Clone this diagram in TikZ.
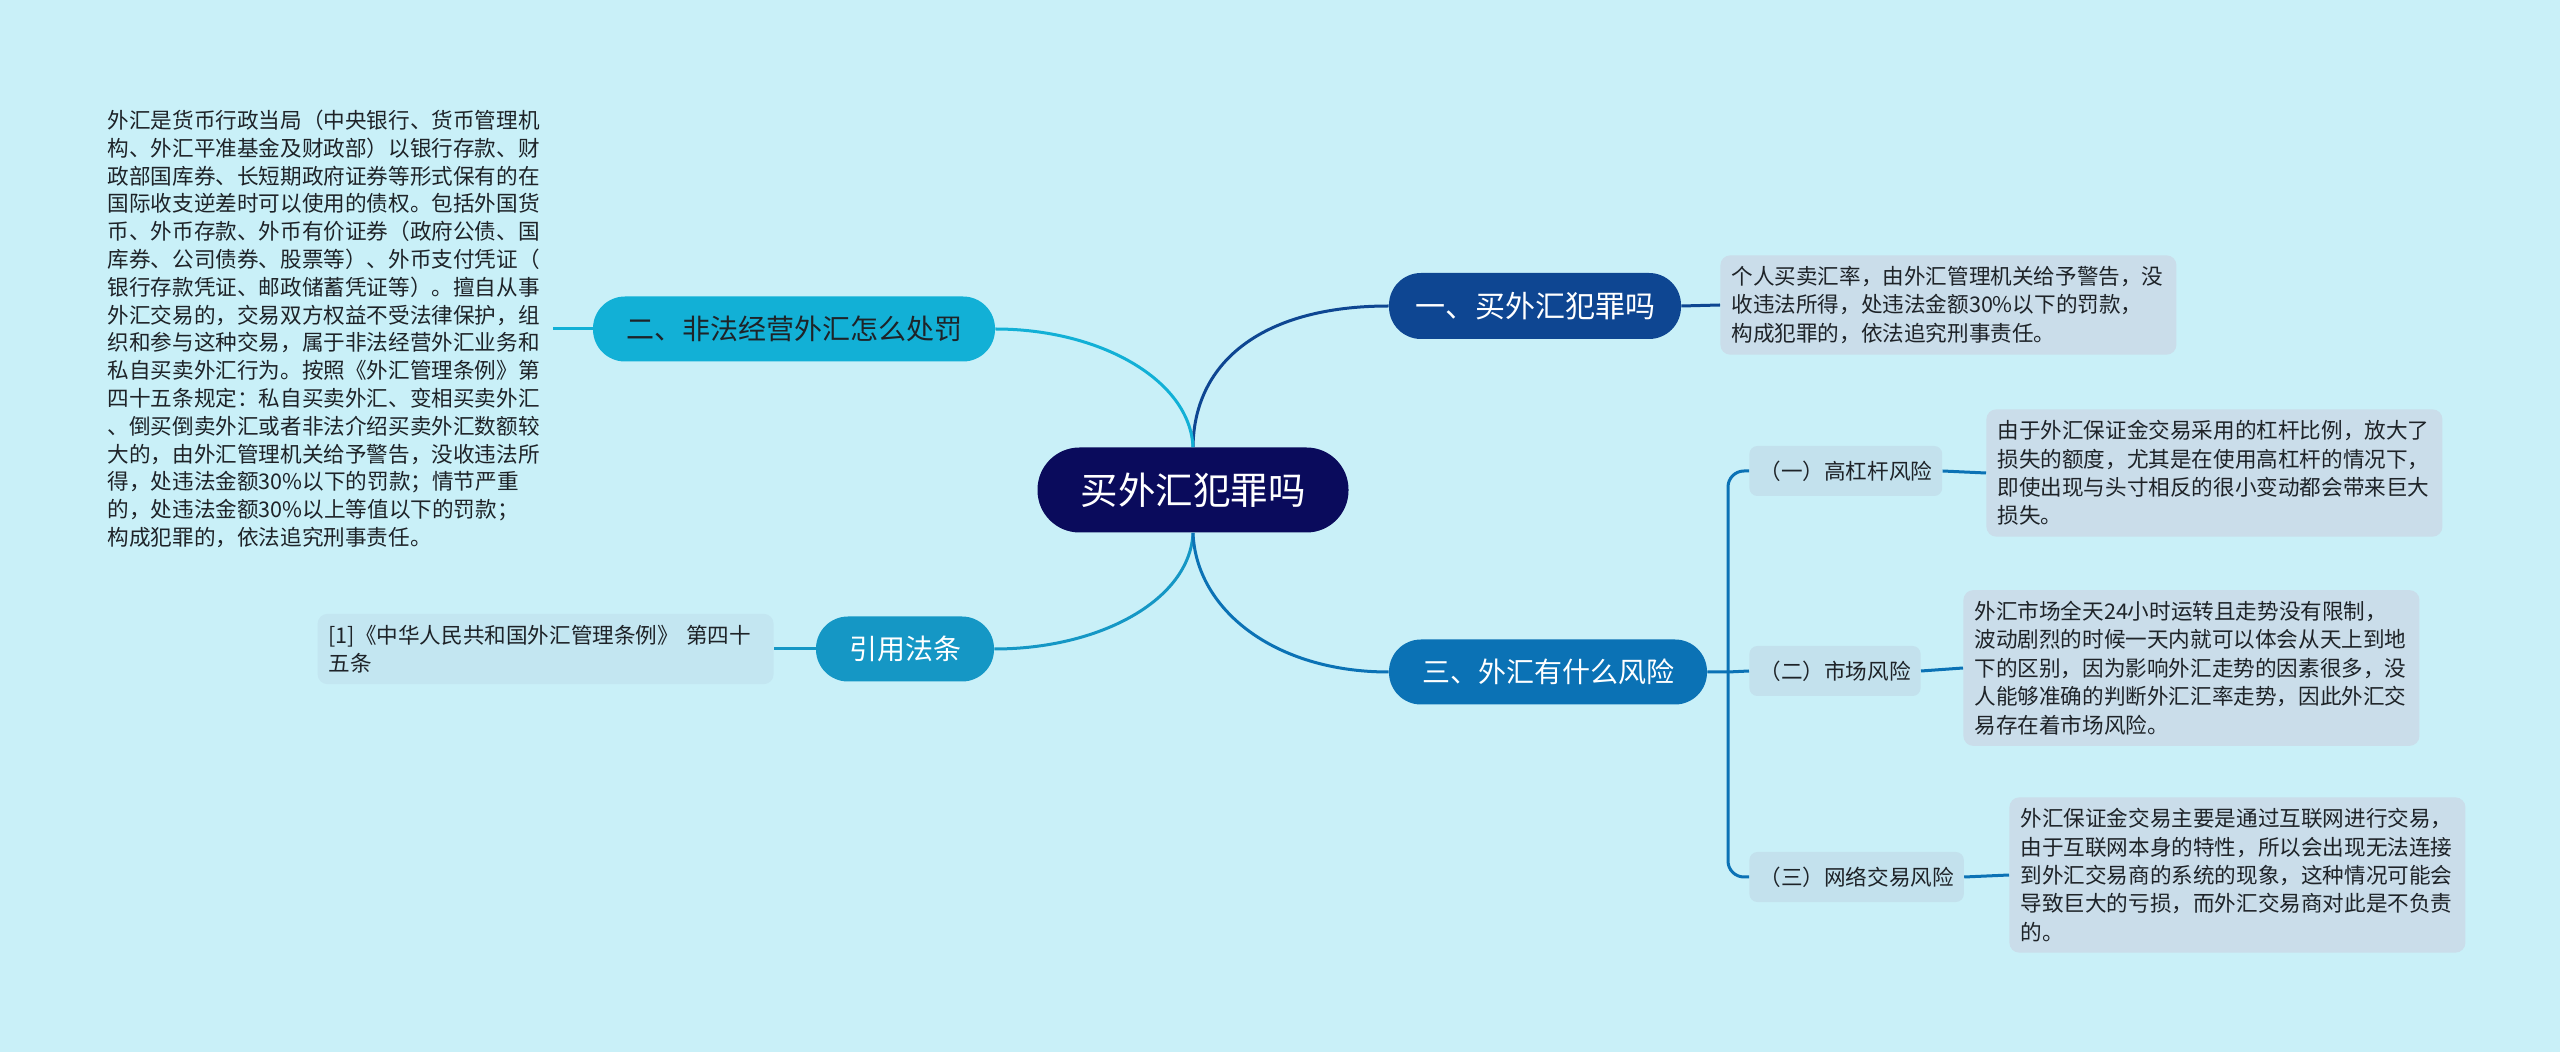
\documentclass[tikz,border=0pt]{standalone}
\usepackage{fontspec}
\setmainfont{Noto Sans CJK SC}
\definecolor{bgcyan}{HTML}{C9F0F8}
\definecolor{rootnavy}{HTML}{0A0B5C}
\definecolor{oneblue}{HTML}{0E4692}
\definecolor{twocyan}{HTML}{12B0D6}
\definecolor{lawteal}{HTML}{1597C5}
\definecolor{threeblue}{HTML}{0B72B5}
\definecolor{subfill}{HTML}{C3E1ED}
\definecolor{leaffill}{HTML}{CADDEA}
\definecolor{lawfill}{HTML}{C3E6F1}
\definecolor{textdark}{HTML}{1E2328}

\begin{document}
\begin{tikzpicture}[x=0.5pt, y=-0.5pt,
    topic/.style={rounded corners=16pt, minimum height=32.5pt, inner xsep=16.5pt, font=\fontsize{14}{16}\selectfont},
    sub/.style={fill=subfill, rounded corners=4pt, minimum height=25pt, inner xsep=5pt, font=\fontsize{10.8}{13}\selectfont, text=textdark},
    leaf/.style={fill=leaffill, rounded corners=5pt, inner sep=5.5pt, text width=217pt, align=left, font=\fontsize{10.8}{14.2}\selectfont, text=textdark},
    link/.style={line width=1.5pt}]
    % Background and page size
    \fill[bgcyan] (0,0) rectangle (2560,1052);
    \useasboundingbox (0,0) rectangle (2560,1052);

    % Central topic
    \node[topic, fill=rootnavy, text=white, rounded corners=21pt, minimum height=42.5pt, inner xsep=21.5pt, font=\fontsize{18.75}{20}\selectfont] (root) at (1193,490) {买外汇犯罪吗};

    % Main branches
    \node[topic, fill=oneblue, text=white, font=\fontsize{15}{17}\selectfont, minimum height=33pt, inner xsep=13pt] (t1) at (1535,306) {一、买外汇犯罪吗};
    \node[topic, fill=twocyan, text=textdark] (t2) at (794,329) {二、非法经营外汇怎么处罚};
    \node[topic, fill=lawteal, text=white] (t4) at (905,649) {引用法条};
    \node[topic, fill=threeblue, text=white] (t3) at (1548,672) {三、外汇有什么风险};

    % Branches from the central topic
    \draw[link, oneblue] (root.north) .. controls (1194,360) and (1265,306) .. (t1.west);
    \draw[link, twocyan] (root.north) .. controls (1190,380) and (1100,329) .. (t2.east);
    \draw[link, lawteal] (root.south) .. controls (1190,600) and (1100,649) .. (t4.east);
    \draw[link, threeblue] (root.south) .. controls (1196,610) and (1275,672) .. (t3.west);

    % Details of branch one
    \node[leaf, anchor=west] (d1) at (1720,305) {个人买卖汇率，由外汇管理机关给予警告，没\\收违法所得，处违法金额30\%以下的罚款，\\构成犯罪的，依法追究刑事责任。};
    \draw[link, oneblue] (t1.east) -- (d1.west);

    % Details of branch two (text only, no box)
    \node[leaf, fill=none, anchor=east, font=\fontsize{10.8}{13.9}\selectfont] (d2) at (553,329) {外汇是货币行政当局（中央银行、货币管理机\\构、外汇平准基金及财政部）以银行存款、财\\政部国库券、长短期政府证券等形式保有的在\\国际收支逆差时可以使用的债权。包括外国货\\币、外币存款、外币有价证券（政府公债、国\\库券、公司债券、股票等）、外币支付凭证（\\银行存款凭证、邮政储蓄凭证等）。擅自从事\\外汇交易的，交易双方权益不受法律保护，组\\织和参与这种交易，属于非法经营外汇业务和\\私自买卖外汇行为。按照《外汇管理条例》第\\四十五条规定：私自买卖外汇、变相买卖外汇\\、倒买倒卖外汇或者非法介绍买卖外汇数额较\\大的，由外汇管理机关给予警告，没收违法所\\得，处违法金额30\%以下的罚款；情节严重\\的，处违法金额30\%以上等值以下的罚款；\\构成犯罪的，依法追究刑事责任。};
    \draw[link, twocyan] (t2.west) -- (d2.east);

    % Cited article
    \node[leaf, fill=lawfill, anchor=east] (d4) at (774,649) {[1]《中华人民共和国外汇管理条例》 第四十\\五条};
    \draw[link, lawteal] (t4.west) -- (d4.east);

    % Risks of branch three
    \node[sub, anchor=west] (r1) at (1749,471) {（一）高杠杆风险};
    \node[sub, anchor=west] (r2) at (1749,671) {（二）市场风险};
    \node[sub, anchor=west] (r3) at (1749,877) {（三）网络交易风险};
    \coordinate (fork) at (1728,672);
    \draw[link, threeblue] (t3.east) -- (fork) -- (r2.west);
    \draw[link, threeblue, rounded corners=8pt] (fork) |- (r1.west);
    \draw[link, threeblue, rounded corners=8pt] (fork) |- (r3.west);

    % Details of each risk
    \node[leaf, anchor=west] (e1) at (1986,473) {由于外汇保证金交易采用的杠杆比例，放大了\\损失的额度，尤其是在使用高杠杆的情况下，\\即使出现与头寸相反的很小变动都会带来巨大\\损失。};
    \node[leaf, anchor=west] (e2) at (1963,668) {外汇市场全天24小时运转且走势没有限制，\\波动剧烈的时候一天内就可以体会从天上到地\\下的区别，因为影响外汇走势的因素很多，没\\人能够准确的判断外汇汇率走势，因此外汇交\\易存在着市场风险。};
    \node[leaf, anchor=west] (e3) at (2009,875) {外汇保证金交易主要是通过互联网进行交易，\\由于互联网本身的特性，所以会出现无法连接\\到外汇交易商的系统的现象，这种情况可能会\\导致巨大的亏损，而外汇交易商对此是不负责\\的。};
    \draw[link, threeblue] (r1.east) -- (e1.west);
    \draw[link, threeblue] (r2.east) -- (e2.west);
    \draw[link, threeblue] (r3.east) -- (e3.west);
\end{tikzpicture}
\end{document}
